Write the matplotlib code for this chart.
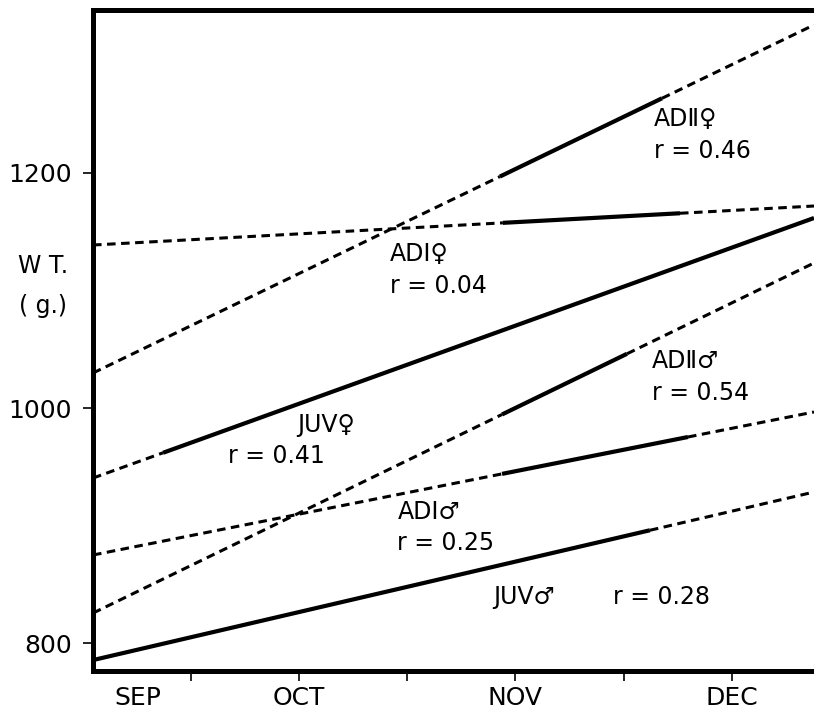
import numpy as np
import matplotlib
matplotlib.use('Agg')
import matplotlib.pyplot as plt

# x in months: 1 = OCT, 2 = NOV, 3 = DEC
x_left, x_right = 0.0485, 3.379

# regression lines: weight (g) at left and right edge of the plot
groups = ['ADII_F', 'ADI_F', 'JUV_F', 'ADII_M', 'ADI_M', 'JUV_M']
w_left = [1029.8, 1138.7, 940.4, 825.5, 874.9, 785.5]
w_right = [1326.0, 1171.9, 1161.7, 1123.4, 996.6, 928.5]
# range covered by the data (drawn solid), rest is dashed
solid_start = [1.928, 1.942, 0.372, 1.938, 1.938, 0.0485]
solid_end = [2.677, 2.76, 3.379, 2.515, 2.797, 2.621]

labels = ['ADⅡ♀\nr = 0.46', 'ADⅠ♀\nr = 0.04', 'JUV♀', 'r = 0.41',
          'ADⅡ♂\nr = 0.54', 'ADⅠ♂\nr = 0.25', 'JUV♂', 'r = 0.28']
label_x = [2.638, 1.42, 0.99, 0.67, 2.632, 1.455, 1.895, 2.45]
label_y = [1256, 1141, 996, 969, 1050, 922, 849, 849]

month_ticks = [0.5, 1, 1.5, 2, 2.5, 3]
month_labels = ['', 'OCT', '', 'NOV', '', 'DEC']

plt.rcParams['font.family'] = ['DejaVu Sans']

fig = plt.figure(figsize=(8.14, 7.10), dpi=100)
ax = fig.add_axes([93 / 814, 1 - 671 / 710, 1 - 93 / 814, (671 - 10) / 710])

for i in range(len(groups)):
    xs = [x_left, x_right]
    ys = [w_left[i], w_right[i]]
    s0, s1 = solid_start[i], solid_end[i]
    # dashed parts
    if s0 > x_left:
        xd = np.array([x_left, s0])
        ax.plot(xd, np.interp(xd, xs, ys), color='black', lw=2.2,
                linestyle=(0, (2.8, 1.8)), solid_capstyle='butt')
    if s1 < x_right:
        xd = np.array([s1, x_right])
        ax.plot(xd, np.interp(xd, xs, ys), color='black', lw=2.2,
                linestyle=(0, (2.8, 1.8)), solid_capstyle='butt')
    xsol = np.array([s0, s1])
    ax.plot(xsol, np.interp(xsol, xs, ys), color='black', lw=3.0,
            solid_capstyle='butt')

for lab, lx, ly in zip(labels, label_x, label_y):
    ax.text(lx, ly, lab, fontsize=17, ha='left', va='top', linespacing=1.4)

ax.set_xlim(x_left, x_right)
ax.set_ylim(776.2, 1338.7)

ax.set_yticks([800, 1000, 1200])
ax.set_xticks(month_ticks, month_labels)
ax.set_xticks([0.256], ['SEP'], minor=True)
ax.tick_params(axis='y', direction='out', length=7, width=1.2, pad=8, labelsize=18)
ax.tick_params(axis='x', which='major', direction='out', length=7, width=1.2, pad=4, labelsize=18)
ax.tick_params(axis='x', which='minor', length=0, pad=11, labelsize=18)

for side in ['left', 'top', 'bottom']:
    ax.spines[side].set_linewidth(3.6)
ax.spines['right'].set_visible(False)

fig.text(43 / 814, 1 - 266 / 710, 'W T.', fontsize=17, ha='center', va='center')
fig.text(43 / 814, 1 - 306 / 710, '( g.)', fontsize=17, ha='center', va='center')

fig.savefig('out.png', dpi=100)
